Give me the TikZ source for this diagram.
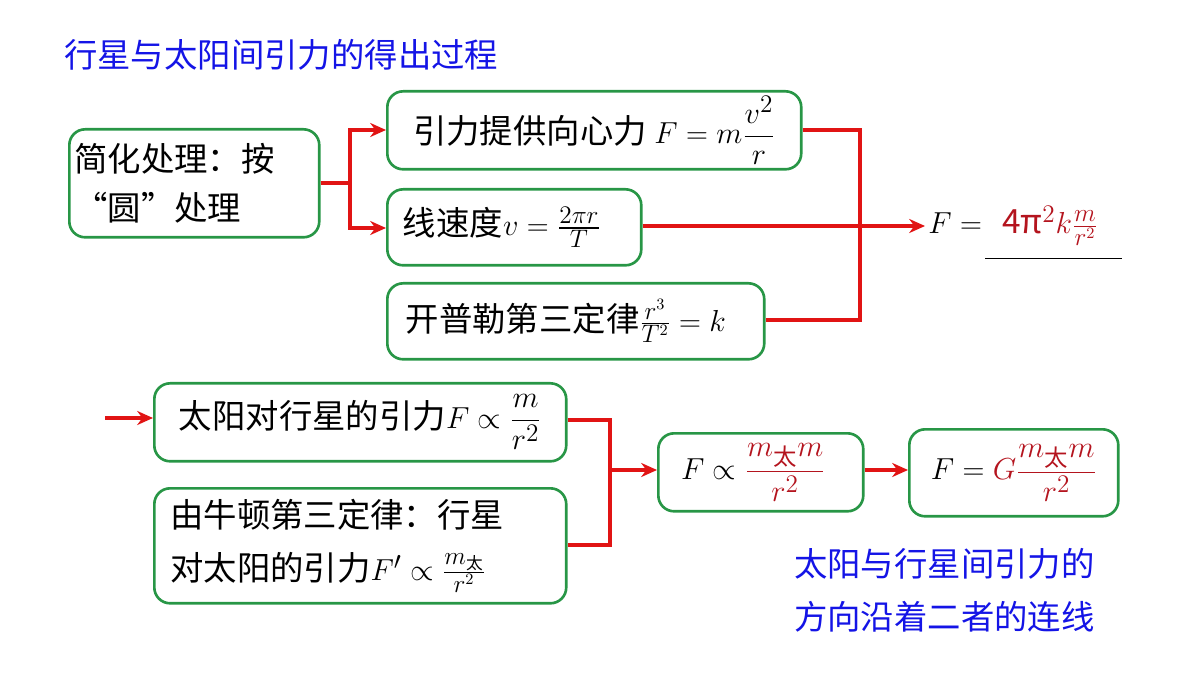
\documentclass[tikz,border=0pt]{standalone}
\usepackage{amsmath}
\usepackage{fontspec}
\setmainfont{Noto Sans CJK SC}
\usetikzlibrary{arrows.meta}
\definecolor{boxgreen}{RGB}{40,150,70}
\definecolor{linered}{RGB}{225,20,20}
\definecolor{darkred}{RGB}{180,20,30}
\definecolor{titleblue}{RGB}{20,20,230}
\tikzset{
  stage/.style={draw=boxgreen, line width=1.5pt, rounded corners=9pt, align=left,
    font=\fontsize{19}{28}\selectfont, inner sep=0pt, anchor=north west},
  link/.style={draw=linered, line width=1.8pt},
  arr/.style={link, -{Stealth[length=9pt,width=8pt]}}
}
\begin{document}
\begin{tikzpicture}[x=0.02cm,y=-0.02cm]
  \useasboundingbox (0,0) rectangle (1200,675);
  \node[anchor=west, text=titleblue, font=\fontsize{19}{22}\selectfont] (title) at (58,55) {行星与太阳间引力的得出过程};

  % upper chain
  \node[stage, minimum width=5cm, minimum height=2.16cm, text width=5cm] (simple) at (68,128) {\hspace*{0.1cm}简化处理：按\\\hspace*{0.1cm}“圆”处理};
  \node[stage, minimum width=8.28cm, minimum height=1.56cm] (centri) at (386,90) {引力提供向心力 $F=m\dfrac{v^2}{r}$};
  \node[stage, minimum width=5.08cm, minimum height=1.52cm] (speed) at (386,188) {线速度$v=\frac{2\pi r}{T}$\hspace*{0.5cm}};
  \node[stage, minimum width=7.54cm, minimum height=1.52cm] (kepler) at (386,282) {开普勒第三定律$\frac{r^3}{T^2}=k$\hspace*{0.4cm}};
  \node[anchor=west, font=\fontsize{19}{22}\selectfont, inner sep=0pt] (force) at (928,226) {$F=$\hspace{0.4cm}\textcolor{darkred}{4π$^2k\frac{m}{r^2}$}};
  \coordinate (forcein) at (925,226);
  \draw (985,258) -- (1122,258);

  \coordinate (split) at (350,183);
  \coordinate (merge) at (860,130);
  \draw[link] (simple.east |- split) -- (split);
  \draw[arr] (split) |- (centri.west |- 0,130);
  \draw[arr] (split) |- (speed.west |- 0,228);
  \draw[link] (centri.east |- merge) -- (merge) |- (kepler.east |- 0,320);
  \draw[arr] (speed.east |- forcein) -- (forcein);

  % lower chain
  \node[stage, minimum width=8.24cm, minimum height=1.56cm] (sunpull) at (153,382) {太阳对行星的引力$F\propto\dfrac{m}{r^2}$};
  \node[stage, minimum width=8.24cm, minimum height=2.3cm, text width=8cm] (newton) at (153,487) {\hspace*{0.2cm}由牛顿第三定律：行星\\[2pt]\hspace*{0.2cm}对太阳的引力$F'\propto\frac{m_{\text{太}}}{r^2}$};
  \node[stage, minimum width=4.1cm, minimum height=1.56cm] (propto) at (657,432) {$F\propto\textcolor{darkred}{\dfrac{m_{\text{太}}m}{r^2}}$\hspace*{0.3cm}};
  \node[stage, minimum width=4.18cm, minimum height=1.74cm] (gravity) at (908,428) {$F=\textcolor{darkred}{G\dfrac{m_{\text{太}}m}{r^2}}$};
  \coordinate (start) at (105,418);
  \coordinate (join) at (610,470);
  \draw[arr] (start) -- (sunpull.west |- start);
  \draw[link] (sunpull.east |- 0,420) -| (610,545) -- (newton.east |- 0,545);
  \draw[arr] (join) -- (propto.west |- join);
  \draw[arr] (propto.east |- join) -- (gravity.west |- join);

  \node[anchor=north west, text=titleblue, align=left, font=\fontsize{19}{30}\selectfont] (note) at (788,542) {太阳与行星间引力的\\方向沿着二者的连线};
\end{tikzpicture}
\end{document}
